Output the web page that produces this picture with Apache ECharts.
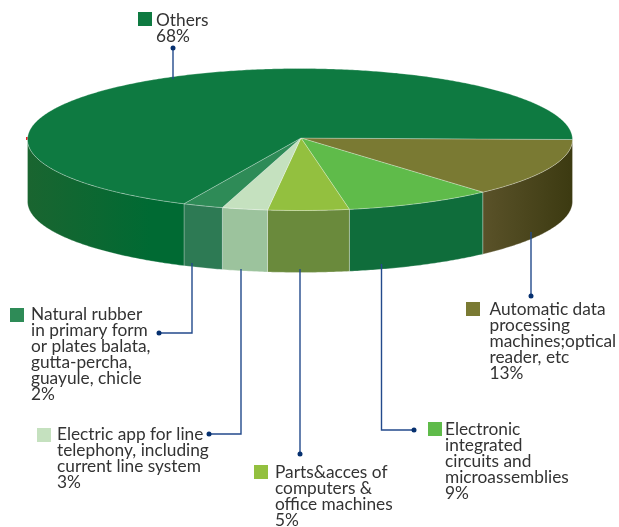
<!DOCTYPE html>
<html>
<head>
<meta charset="utf-8">
<style>html,body{margin:0;padding:0;background:#fff}#c{width:619px;height:527px}</style>
<script src="https://cdn.jsdelivr.net/npm/echarts@6/dist/echarts.min.js"></script>
</head>
<body>
<div id="c"></div>
<script>
// Data, clockwise from the right-hand edge of the ellipse.
// Labels show them rounded.
var categories = [
  'Automatic data\nprocessing\nmachines;optical\nreader, etc',
  'Electronic\nintegrated\ncircuits and\nmicroassemblies',
  'Parts&acces of\ncomputers &\noffice machines',
  'Electric app for line\ntelephony, including\ncurrent line system',
  'Natural rubber\nin primary form\nor plates balata,\ngutta-percha,\nguayule, chicle',
  'Others'
];
var values = [13.3, 8.8, 4.8, 2.7, 2.4, 68];

// Styles
var topColors = ['#7a7a33', '#5fbb4a', '#93c03f', '#c5e1bf', '#2e8b57', '#0e7a41'];
var wallColors = [
  {from: '#5a5229', to: '#3c3a11', x0: 483, x1: 572},
  {from: '#0f6d3b', to: '#0f6d3b', x0: 348, x1: 483},
  {from: '#6a8a3c', to: '#6a8a3c', x0: 268, x1: 348},
  {from: '#9cc39d', to: '#9cc39d', x0: 223, x1: 268},
  {from: '#2d7a54', to: '#2d7a54', x0: 185, x1: 223},
  {from: '#1a6530', to: '#006a33', x0: 27, x1: 150}
];

// Layout
var pie = {cx: 300, cy: 139.5, rx: 272.5, ry: 71, depth: 62, apexX: 301, apexY: 138};
var labelBoxes = [
  {sx: 466, sy: 302, tx: 489.5, ty: 301},
  {sx: 428, sy: 422, tx: 445, ty: 421},
  {sx: 254, sy: 465, tx: 275, ty: 464},
  {sx: 37, sy: 428, tx: 57, ty: 426},
  {sx: 10, sy: 308, tx: 31, ty: 306},
  {sx: 138, sy: 12, tx: 156, ty: 12}
];
var leaders = [
  [[531, 232], [531, 296]],
  [[381.5, 264], [381.5, 430], [414, 430]],
  [[300, 269], [300, 454]],
  [[241, 269], [241, 434], [209, 434]],
  [[192, 263], [192, 333], [159, 333]],
  [[173, 79], [173, 48]]
];
var FONT = 'Lato, "Open Sans", sans-serif';
var FONT_SIZE = 17.3;

var total = values.reduce(function (a, b) { return a + b; }, 0);
function toAngle(v) { return v / total * Math.PI * 2; }
function rimPoint(t, dy) {
  return [pie.cx + pie.rx * Math.cos(t), pie.cy + pie.ry * Math.sin(t) + (dy || 0)];
}
function arc(t0, t1, dy) {
  var n = Math.max(2, Math.ceil(Math.abs(t1 - t0) / 0.01));
  var pts = [];
  for (var i = 0; i <= n; i++) pts.push(rimPoint(t0 + (t1 - t0) * i / n, dy));
  return pts;
}

var seam = 'rgba(255,255,255,0.34)';

var option = {
  animation: false,
  backgroundColor: '#fff',
  series: [{
    type: 'custom',
    coordinateSystem: 'none',
    silent: true,
    data: values.map(function (v, i) { return {value: [v, i], name: categories[i]}; }),
    renderItem: function (params, api) {
      var idx = api.value(1);
      var start = 0;
      for (var i = 0; i < idx; i++) start += toAngle(values[i]);
      var end = start + toAngle(api.value(0));
      var children = [];
      var wallEnd = Math.min(end, Math.PI);
      if (start < Math.PI) {
        var w = wallColors[idx];
        var pts = arc(start, wallEnd, 0).concat(arc(wallEnd, start, pie.depth));
        children.push({
          type: 'polygon',
          shape: {points: pts},
          style: {
            fill: new echarts.graphic.LinearGradient(w.x0, 0, w.x1, 0, [
              {offset: 0, color: w.from}, {offset: 1, color: w.to}
            ], true),
            stroke: seam, lineWidth: 0.8
          }
        });
      }
      children.push({
        type: 'polygon',
        shape: {points: [[pie.apexX, pie.apexY]].concat(arc(start, end, 0))},
        style: {fill: topColors[idx], stroke: seam, lineWidth: 0.8}
      });
      return {type: 'group', children: children};
    }
  }],
  graphic: {elements: []}
};

var els = option.graphic.elements;
categories.forEach(function (name, i) {
  var b = labelBoxes[i];
  els.push({type: 'rect', z: 10, shape: {x: b.sx, y: b.sy, width: 14, height: 14},
    style: {fill: topColors[i]}});
  els.push({type: 'text', z: 10, x: b.tx, y: b.ty,
    style: {text: name + '\n' + Math.round(values[i]) + '%', fill: '#333333',
      font: FONT_SIZE + 'px ' + FONT, lineHeight: 16, align: 'left', verticalAlign: 'top'}});
  var line = leaders[i];
  els.push({type: 'polyline', z: 9, shape: {points: line},
    style: {stroke: '#234a8c', lineWidth: 1.4, fill: 'none'}});
  var e = line[line.length - 1];
  els.push({type: 'circle', z: 9, shape: {cx: e[0], cy: e[1], r: 2.5},
    style: {fill: '#06306f'}});
});
// small red tick on the left rim of the reference
els.push({type: 'rect', z: 1, shape: {x: 26, y: 137, width: 2, height: 3}, style: {fill: '#e8202a'}});

var chart = echarts.init(document.getElementById('c'), null, {renderer: 'canvas', width: 619, height: 527});
chart.setOption(option);
</script>
</body>
</html>
